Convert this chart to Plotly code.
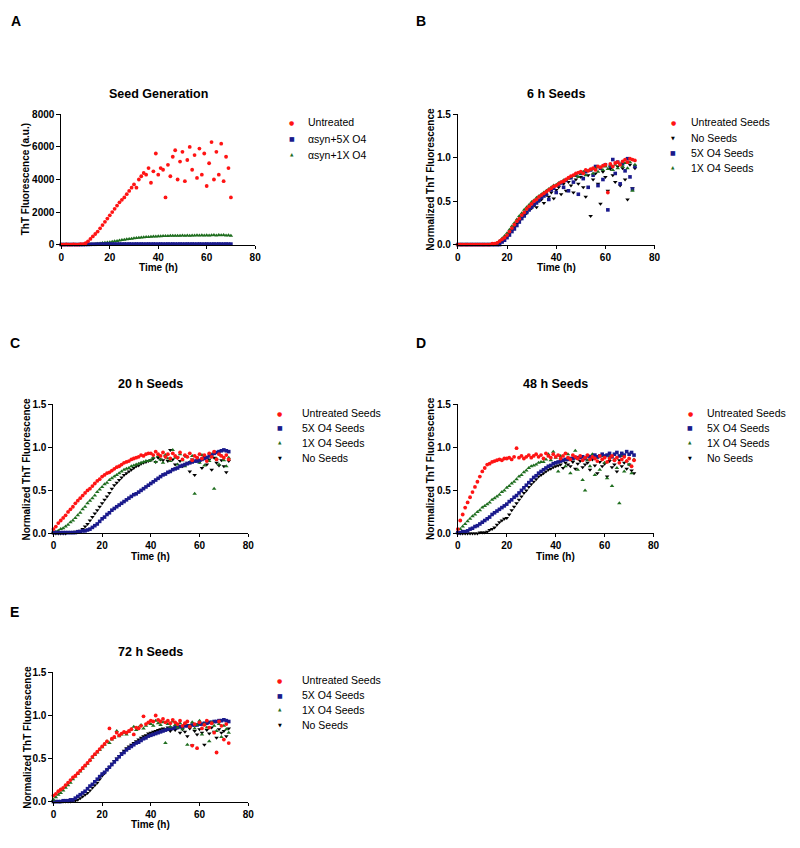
import plotly.graph_objects as go

# ---------------- DATA ----------------
T_A = [0,1,2,3,4,5,6,7,8,9,10,11,12,13,14,15,16,17,18,19,20,21,22,23,24,25,26,27,28,29,
       30,31,32,33,34,35,36,37,38,39,40,41,42,43,44,45,46,47,48,49,50,51,52,53,54,55,56,57,58,59,
       60,61,62,63,64,65,66,67,68,69,70]
T = [0,1,2,3,4,5,6,7,8,9,10,11,12,13,14,15,16,17,18,19,20,21,22,23,24,25,26,27,28,29,
     30,31,32,33,34,35,36,37,38,39,40,41,42,43,44,45,46,47,48,49,50,51,52,53,54,55,56,57,58,59,
     60,61,62,63,64,65,66,67,68,69,70,71,72]

# Panel A - Seed Generation (a.u.)
A_untreated = [0,0,10,0,0,10,0,0,20,30,
               80,200,350,500,650,800,1000,1200,1400,1600,
               1800,2000,2200,2400,2600,2750,2900,3100,3300,3500,
               3700,3500,4000,4200,4400,4300,4700,3800,4500,5600,
               4300,4700,4600,2900,4900,4200,5400,5800,4000,5100,
               5700,3900,5200,6000,4600,5500,4100,5900,4300,5600,
               3600,5000,6300,4000,5700,4300,6200,3900,5400,4700,
               2900]
A_5x = [0,0,0,0,0,0,0,0,0,0,
        5,10,15,20,20,25,25,30,30,30,
        30,30,35,30,35,30,35,30,35,30,
        30,35,30,35,30,30,35,30,35,30,
        30,35,30,30,35,30,35,30,30,35,
        30,30,35,30,35,30,30,35,30,30,
        35,30,30,35,30,35,30,30,35,30,
        30]
A_1x = [0,0,0,0,0,0,0,0,0,0,
        0,5,15,25,40,55,70,90,110,130,
        150,175,200,225,250,275,300,325,345,365,
        385,400,420,435,450,460,470,480,490,500,
        510,515,520,530,525,540,535,545,550,540,
        555,545,560,550,565,555,570,560,575,565,
        580,560,575,590,565,585,570,595,560,580,
        540]

# Panel B - 6 h Seeds
B_untreated = [0,0,0,0,0,0,0,0,0,0,
               0,0,0,0,0.01,0.01,0.02,0.04,0.06,0.08,
               0.11,0.15,0.19,0.23,0.27,0.30,0.34,0.37,0.41,0.44,
               0.47,0.50,0.52,0.55,0.57,0.59,0.61,0.63,0.65,0.67,
               0.68,0.70,0.72,0.73,0.75,0.77,0.79,0.80,0.82,0.83,
               0.84,0.82,0.86,0.85,0.87,0.88,0.86,0.90,0.89,0.91,
               0.92,0.60,0.93,0.90,0.94,0.95,0.92,0.96,0.98,0.95,
               0.99,0.98,0.97]
B_noseeds = [0,0,0,0,0,0,0,0,0,0,
             0,0,0,0,0,0,0,0.02,0.04,0.07,
             0.10,0.13,0.17,0.20,0.24,0.27,0.31,0.34,0.36,0.40,
             0.42,0.45,0.43,0.50,0.52,0.48,0.57,0.55,0.60,0.53,
             0.63,0.66,0.58,0.70,0.62,0.72,0.68,0.60,0.75,0.70,
             0.78,0.66,0.55,0.80,0.33,0.75,0.82,0.70,0.47,0.84,
             0.78,0.62,0.87,0.80,0.72,0.90,0.68,0.88,0.75,0.52,
             0.92,0.65,0.88]
B_5x = [0,0,0,0,0,0,0,0,0,0,
        0,0,0,0,0,0,0,0,0.03,0.05,
        0.08,0.11,0.15,0.18,0.22,0.26,0.30,0.33,0.37,0.40,
        0.43,0.46,0.48,0.51,0.54,0.56,0.58,0.52,0.63,0.65,
        0.60,0.69,0.71,0.66,0.74,0.62,0.77,0.72,0.80,0.58,
        0.82,0.76,0.84,0.66,0.86,0.80,0.90,0.68,0.88,0.75,
        0.92,0.40,0.90,0.98,0.82,0.95,0.70,0.93,0.85,0.99,
        0.78,0.64,0.90]
B_1x = [0,0,0,0,0,0,0,0,0,0,
        0,0,0,0,0,0,0.02,0.04,0.07,0.10,
        0.13,0.17,0.21,0.25,0.29,0.33,0.36,0.40,0.43,0.46,
        0.49,0.51,0.54,0.56,0.58,0.60,0.62,0.64,0.66,0.68,
        0.69,0.71,0.72,0.74,0.75,0.76,0.78,0.79,0.80,0.78,
        0.82,0.84,0.80,0.85,0.86,0.82,0.88,0.84,0.89,0.86,
        0.90,0.87,0.91,0.86,0.92,0.88,0.93,0.90,0.94,0.88,
        0.95,0.62,0.92]

# Panel C - 20 h Seeds
C_untreated = [0.05,0.08,0.12,0.15,0.18,0.21,0.25,0.28,0.31,0.35,
               0.38,0.41,0.44,0.47,0.50,0.52,0.55,0.58,0.61,0.63,
               0.66,0.68,0.70,0.71,0.73,0.75,0.77,0.78,0.80,0.82,
               0.83,0.84,0.86,0.87,0.88,0.89,0.91,0.90,0.92,0.93,
               0.93,0.91,0.95,0.92,0.90,0.94,0.89,0.92,0.87,0.93,
               0.90,0.88,0.94,0.86,0.91,0.89,0.93,0.85,0.90,0.88,
               0.92,0.87,0.91,0.84,0.93,0.89,0.95,0.86,0.92,0.90,
               0.88,0.91,0.86]
C_5x = [0.01,0.01,0.01,0.01,0.01,0.01,0.01,0.01,0.01,0.01,
        0.02,0.02,0.03,0.03,0.04,0.05,0.07,0.09,0.11,0.14,
        0.17,0.19,0.22,0.24,0.27,0.29,0.31,0.33,0.35,0.37,
        0.39,0.41,0.43,0.45,0.46,0.48,0.50,0.52,0.54,0.56,
        0.58,0.60,0.62,0.64,0.66,0.68,0.69,0.71,0.72,0.74,
        0.75,0.76,0.78,0.79,0.80,0.81,0.82,0.83,0.84,0.84,
        0.85,0.86,0.87,0.88,0.90,0.91,0.93,0.94,0.95,0.96,
        0.97,0.96,0.95]
C_1x = [0.01,0.02,0.03,0.05,0.06,0.08,0.10,0.13,0.15,0.18,
        0.21,0.24,0.28,0.31,0.35,0.38,0.41,0.44,0.48,0.51,
        0.54,0.57,0.59,0.62,0.64,0.66,0.68,0.70,0.72,0.74,
        0.75,0.76,0.78,0.79,0.80,0.81,0.82,0.83,0.84,0.84,
        0.85,0.88,0.83,0.90,0.86,0.82,0.91,0.87,0.84,0.97,
        0.88,0.80,0.92,0.85,0.78,0.89,0.83,0.90,0.46,0.86,
        0.82,0.91,0.79,0.88,0.84,0.92,0.52,0.87,0.80,0.90,
        0.85,0.78,0.88]
C_noseeds = [0.00,0.00,0.00,0.00,0.00,0.00,0.01,0.01,0.01,0.02,
             0.02,0.03,0.05,0.08,0.11,0.15,0.19,0.23,0.27,0.31,
             0.35,0.39,0.43,0.47,0.52,0.56,0.59,0.62,0.65,0.68,
             0.70,0.72,0.74,0.76,0.78,0.79,0.81,0.82,0.83,0.84,
             0.85,0.87,0.83,0.88,0.86,0.85,0.89,0.84,0.97,0.86,
             0.80,0.88,0.84,0.78,0.90,0.82,0.72,0.86,0.68,0.88,
             0.83,0.76,0.89,0.80,0.86,0.74,0.88,0.82,0.79,0.85,
             0.78,0.71,0.84]

# Panel D - 48 h Seeds
D_untreated = [0.05,0.15,0.22,0.30,0.36,0.42,0.48,0.54,0.60,0.66,
               0.72,0.76,0.80,0.81,0.83,0.84,0.85,0.86,0.85,0.87,
               0.87,0.88,0.86,0.89,0.99,0.88,0.90,0.87,0.89,0.91,
               0.88,0.90,0.92,0.89,0.91,0.87,0.93,0.90,0.88,0.92,
               0.89,0.91,0.87,0.90,0.93,0.88,0.86,0.91,0.89,0.87,
               0.90,0.85,0.88,0.91,0.86,0.89,0.87,0.84,0.90,0.86,
               0.88,0.83,0.87,0.90,0.85,0.88,0.82,0.86,0.89,0.84,
               0.87,0.78,0.85]
D_5x = [0.01,0.01,0.02,0.02,0.03,0.05,0.06,0.08,0.09,0.11,
        0.13,0.15,0.17,0.19,0.22,0.24,0.26,0.28,0.30,0.32,
        0.34,0.37,0.39,0.42,0.44,0.47,0.50,0.53,0.56,0.59,
        0.62,0.65,0.67,0.70,0.72,0.74,0.76,0.78,0.79,0.81,
        0.82,0.83,0.84,0.85,0.86,0.86,0.87,0.87,0.88,0.88,
        0.88,0.89,0.87,0.90,0.89,0.88,0.91,0.89,0.90,0.92,
        0.90,0.91,0.93,0.89,0.92,0.94,0.90,0.93,0.91,0.95,
        0.92,0.94,0.91]
D_1x = [0.02,0.05,0.08,0.11,0.14,0.17,0.20,0.22,0.25,0.27,
        0.30,0.32,0.34,0.36,0.39,0.41,0.43,0.45,0.48,0.50,
        0.53,0.55,0.58,0.60,0.63,0.66,0.68,0.71,0.73,0.76,
        0.78,0.79,0.80,0.82,0.83,0.83,0.86,0.92,0.85,0.95,
        0.88,0.72,0.90,0.84,0.78,0.92,0.70,0.86,0.96,0.74,
        0.88,0.62,0.50,0.85,0.78,0.92,0.68,0.88,0.74,0.90,
        0.82,0.64,0.89,0.55,0.86,0.76,0.35,0.90,0.72,0.84,
        0.80,0.70,0.86]
D_noseeds = [0,0,0,0,0,0,0,0,0,0.01,
             0.01,0.01,0.02,0.04,0.05,0.07,0.10,0.13,0.15,0.17,
             0.18,0.22,0.27,0.31,0.35,0.39,0.43,0.47,0.50,0.54,
             0.57,0.60,0.63,0.66,0.68,0.70,0.72,0.74,0.75,0.77,
             0.78,0.79,0.80,0.76,0.82,0.80,0.78,0.83,0.75,0.81,
             0.84,0.77,0.80,0.82,0.74,0.86,0.79,0.70,0.83,0.78,
             0.81,0.66,0.84,0.77,0.80,0.72,0.85,0.78,0.82,0.75,
             0.80,0.73,0.70]

# Panel E - 72 h Seeds
E_untreated = [0.07,0.09,0.12,0.14,0.16,0.19,0.22,0.25,0.28,0.30,
               0.33,0.36,0.39,0.42,0.45,0.48,0.52,0.55,0.58,0.61,
               0.64,0.67,0.70,0.85,0.73,0.75,0.80,0.77,0.79,0.81,
               0.80,0.82,0.84,0.78,0.86,0.85,0.88,0.99,0.90,0.92,
               0.94,0.93,1.00,0.95,0.93,0.96,0.92,0.94,0.91,0.95,
               0.92,0.90,0.94,0.88,0.91,0.93,0.87,0.65,0.90,0.62,
               0.92,0.85,0.89,0.94,0.86,0.91,0.80,0.57,0.93,0.88,
               0.72,0.90,0.68]
E_5x = [0.00,0.00,0.00,0.00,0.01,0.01,0.01,0.02,0.02,0.04,
        0.06,0.08,0.10,0.12,0.15,0.18,0.20,0.23,0.26,0.29,
        0.32,0.34,0.37,0.40,0.43,0.46,0.49,0.52,0.55,0.57,
        0.60,0.62,0.64,0.66,0.68,0.69,0.71,0.73,0.74,0.76,
        0.77,0.78,0.79,0.80,0.81,0.82,0.83,0.84,0.85,0.85,
        0.86,0.86,0.87,0.87,0.88,0.88,0.88,0.89,0.89,0.89,
        0.90,0.90,0.91,0.91,0.92,0.92,0.93,0.93,0.94,0.94,
        0.95,0.94,0.93]
E_1x = [0.02,0.05,0.08,0.10,0.13,0.16,0.19,0.22,0.26,0.29,
        0.32,0.35,0.38,0.41,0.44,0.48,0.51,0.54,0.57,0.60,
        0.63,0.66,0.70,0.68,0.72,0.74,0.82,0.76,0.78,0.80,
        0.78,0.81,0.84,0.87,0.83,0.86,0.89,0.85,0.88,0.91,
        0.90,0.88,0.94,0.91,0.89,0.92,0.68,0.90,0.87,0.93,
        0.89,0.86,0.91,0.84,0.90,0.66,0.88,0.92,0.85,0.89,
        0.94,0.78,0.90,0.86,0.70,0.92,0.88,0.82,0.90,0.75,
        0.88,0.84,0.80]
E_noseeds = [0,0,0,0,0,0,0,0,0.01,0.01,
             0.02,0.04,0.06,0.08,0.10,0.13,0.16,0.19,0.22,0.26,
             0.30,0.33,0.37,0.40,0.44,0.47,0.50,0.53,0.56,0.59,
             0.62,0.64,0.66,0.68,0.70,0.72,0.74,0.76,0.77,0.79,
             0.80,0.81,0.82,0.83,0.84,0.85,0.84,0.86,0.82,0.85,
             0.83,0.86,0.80,0.84,0.81,0.76,0.85,0.65,0.82,0.78,
             0.84,0.80,0.66,0.83,0.79,0.86,0.81,0.74,0.84,0.80,
             0.82,0.76,0.85]

# ---------------- STYLE ----------------
W, H = 800, 848
FONT = "Liberation Sans, Arial, sans-serif"
RED, BLUE, GREEN, BLACK = "#ff1414", "#1a1a8c", "#1f6e1f", "#000000"
STY = {
    "red":   dict(symbol="circle", size=3.8, color=RED),
    "blue":  dict(symbol="square", size=3.6, color=BLUE),
    "green": dict(symbol="triangle-up", size=4, color=GREEN),
    "black": dict(symbol="triangle-down", size=4, color=BLACK),
}
GLYPH = {"red": ("●", 6), "blue": ("■", 6), "green": ("▲", 4.5), "black": ("▼", 5)}
COLOR = {"red": RED, "blue": BLUE, "green": GREEN, "black": BLACK}

def fx(p): return p / W
def fy(p): return 1 - p / H

panels = [
    dict(letter="A", lpos=(13, 15), title="Seed Generation", xp=(59, 255), yp=(110, 242),
         yr=[0, 8000], yt=[0, 2000, 4000, 6000, 8000], yfmt="d",
         ytitle="ThT Fluorescence (a.u.)", ytx=23, t=T_A,
         series=[("green", A_1x), ("blue", A_5x), ("red", A_untreated)],
         legend=[("red", "Untreated"), ("blue", "αsyn+5X O4"), ("green", "αsyn+1X O4")],
         lmx=292, ltx=306, lrows=[118, 134.5, 151]),
    dict(letter="B", lpos=(423, 15), title="6 h Seeds", xp=(460, 659), yp=(110, 242),
         yr=[0, 1.5], yt=[0, 0.5, 1.0, 1.5], yfmt=".1f",
         ytitle="Normalized ThT Fluorescence", ytx=432, t=T,
         series=[("black", B_noseeds), ("blue", B_5x), ("green", B_1x), ("red", B_untreated)],
         legend=[("red", "Untreated Seeds"), ("black", "No Seeds"), ("blue", "5X O4 Seeds"), ("green", "1X O4 Seeds")],
         lmx=678, ltx=694, lrows=[118, 134, 149, 164]),
    dict(letter="C", lpos=(12, 342), title="20 h Seeds", xp=(51, 248), yp=(404, 535),
         yr=[0, 1.5], yt=[0, 0.5, 1.0, 1.5], yfmt=".1f",
         ytitle="Normalized ThT Fluorescence", ytx=24, t=T,
         series=[("black", C_noseeds), ("green", C_1x), ("blue", C_5x), ("red", C_untreated)],
         legend=[("red", "Untreated Seeds"), ("blue", "5X O4 Seeds"), ("green", "1X O4 Seeds"), ("black", "No Seeds")],
         lmx=280, ltx=300, lrows=[413, 428, 443, 458]),
    dict(letter="D", lpos=(423, 342), title="48 h Seeds", xp=(460, 658), yp=(404, 535),
         yr=[0, 1.5], yt=[0, 0.5, 1.0, 1.5], yfmt=".1f",
         ytitle="Normalized ThT Fluorescence", ytx=433, t=T,
         series=[("black", D_noseeds), ("green", D_1x), ("blue", D_5x), ("red", D_untreated)],
         legend=[("red", "Untreated Seeds"), ("blue", "5X O4 Seeds"), ("green", "1X O4 Seeds"), ("black", "No Seeds")],
         lmx=695, ltx=710, lrows=[413, 428, 443, 458]),
    dict(letter="E", lpos=(12, 615), title="72 h Seeds", xp=(51, 248), yp=(676, 807),
         yr=[0, 1.5], yt=[0, 0.5, 1.0, 1.5], yfmt=".1f",
         ytitle="Normalized ThT Fluorescence", ytx=24, t=T,
         series=[("black", E_noseeds), ("blue", E_5x), ("green", E_1x), ("red", E_untreated)],
         legend=[("red", "Untreated Seeds"), ("blue", "5X O4 Seeds"), ("green", "1X O4 Seeds"), ("black", "No Seeds")],
         lmx=280, ltx=300, lrows=[684, 699, 714, 729]),
]

fig = go.Figure()
annotations = []
layout = dict(
    width=W, height=H, margin=dict(l=0, r=0, t=0, b=0),
    paper_bgcolor="white", plot_bgcolor="white", showlegend=False,
    font=dict(family=FONT, color="black"),
)

tickfont = dict(family=FONT, size=10, color="black", weight="bold")

for i, p in enumerate(panels, start=1):
    xa = "x" if i == 1 else f"x{i}"
    ya = "y" if i == 1 else f"y{i}"
    xkey = "xaxis" if i == 1 else f"xaxis{i}"
    ykey = "yaxis" if i == 1 else f"yaxis{i}"
    layout[xkey] = dict(domain=[fx(p["xp"][0]), fx(p["xp"][1])], range=[0, 80],
                        tickvals=[0, 20, 40, 60, 80], ticks="outside", ticklen=3, tickwidth=1,
                        tickcolor="black", showline=True, linecolor="black", linewidth=1,
                        showgrid=False, zeroline=False, tickfont=tickfont, anchor=ya, fixedrange=True)
    layout[ykey] = dict(domain=[fy(p["yp"][1]), fy(p["yp"][0])], range=p["yr"],
                        tickvals=p["yt"], tickformat=p["yfmt"], ticks="outside", ticklen=4, tickwidth=1,
                        tickcolor="black", showline=True, linecolor="black", linewidth=1,
                        showgrid=False, zeroline=False, tickfont=tickfont, anchor=xa, fixedrange=True)
    for key, vals in p["series"]:
        fig.add_trace(go.Scatter(x=p["t"], y=vals, mode="markers", marker=dict(**STY[key], line=dict(width=0)),
                                 xaxis=xa, yaxis=ya, cliponaxis=False, showlegend=False, hoverinfo="skip"))
    cx = (p["xp"][0] + p["xp"][1]) / 2
    cy = (p["yp"][0] + p["yp"][1]) / 2
    annotations.append(dict(text=p["letter"], x=fx(p["lpos"][0]), y=fy(p["lpos"][1]), xref="paper", yref="paper",
                            showarrow=False, xanchor="center", yanchor="middle",
                            font=dict(family=FONT, size=14, color="black", weight="bold")))
    annotations.append(dict(text=p["title"], x=fx(cx), y=fy(p["yp"][0] - 21), xref="paper", yref="paper",
                            showarrow=False, xanchor="center", yanchor="middle",
                            font=dict(family=FONT, size=12.5, color="black", weight="bold")))
    annotations.append(dict(text=p["ytitle"], x=fx(p["ytx"]), y=fy(cy), xref="paper", yref="paper",
                            showarrow=False, xanchor="center", yanchor="middle", textangle=-90,
                            font=dict(family=FONT, size=10, color="black", weight="bold")))
    annotations.append(dict(text="Time (h)", x=fx(cx), y=fy(p["yp"][1] + 23), xref="paper", yref="paper",
                            showarrow=False, xanchor="center", yanchor="middle",
                            font=dict(family=FONT, size=10, color="black", weight="bold")))
    for (key, label), ry in zip(p["legend"], p["lrows"]):
        g, gs = GLYPH[key]
        annotations.append(dict(text=g, x=fx(p["lmx"]), y=fy(ry), xref="paper", yref="paper",
                                showarrow=False, xanchor="center", yanchor="middle",
                                font=dict(family="DejaVu Sans", size=gs, color=COLOR[key])))
        annotations.append(dict(text=label, x=fx(p["ltx"]), y=fy(ry), xref="paper", yref="paper",
                                showarrow=False, xanchor="left", yanchor="middle",
                                font=dict(family=FONT, size=10.5, color="black")))

layout["annotations"] = annotations
fig.update_layout(**layout)
fig.write_html("out.html", config={"displayModeBar": False, "staticPlot": True},
               post_script="document.body.style.margin='0px';")
